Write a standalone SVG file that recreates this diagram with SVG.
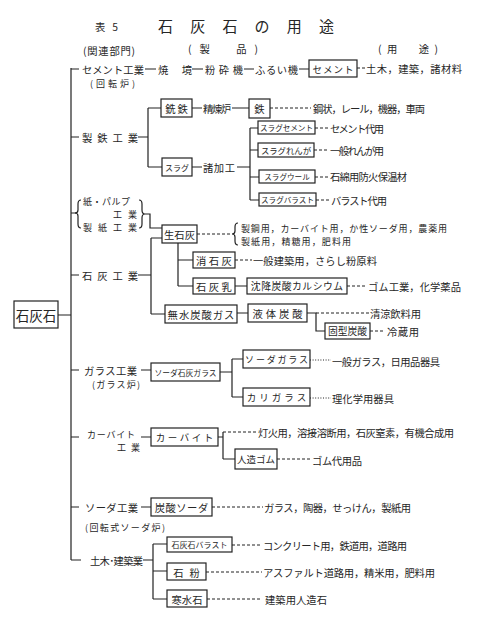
<svg xmlns="http://www.w3.org/2000/svg" width="480" height="622" viewBox="0 0 480 622">
<style>
text{font-family:"Noto Sans CJK JP","Noto Sans CJK SC",sans-serif;font-size:10.3px;fill:#262626;dominant-baseline:central}
.m{text-anchor:middle}
.s{font-size:7.6px}
.k{font-size:9px}
.b{fill:#fff;stroke:#222;stroke-width:1.2}
.l{fill:none;stroke:#222;stroke-width:1.2}
.d{fill:none;stroke:#222;stroke-width:1;stroke-dasharray:3 2}
.o{fill:none;stroke:#222;stroke-width:1;stroke-dasharray:1 1.6}
</style>
<rect width="480" height="622" fill="#fff"/>
<g id="title">
<text x="95" y="26" font-size="12" textLength="23" lengthAdjust="spacing">表 5</text>
<text x="158" y="25" style="font-size:15px" textLength="176" lengthAdjust="spacing">石灰石の用途</text>
<text x="83" y="50" textLength="52" lengthAdjust="spacing">(関連部門)</text>
<text x="188" y="48" textLength="70" lengthAdjust="spacing">(製　品)</text>
<text x="378" y="48" textLength="60" lengthAdjust="spacing">(用　途)</text>
</g>
<g id="connectors">
<path class="l" d="M71,68V560M58,315H71M71,69H79M71,137H79M71,213H76M71,275H79M71,370H79M71,437H79M71,507H79M71,560H81"/>
<path class="l" d="M145,69H156M192,69H203M244,69H254M299,69H309"/>
<path class="d" d="M357,68H366"/>
<path class="l" d="M138,137H148M148,108V167M148,108H161M148,167H162M192,108H202M232,108H249"/>
<path class="d" d="M270,108H311"/>
<path class="l" d="M192,167H202M237,167H250M250,128V200M250,128H258M250,150H258M250,177H259M250,200H259"/>
<path class="d" d="M315,128H329M314,150H329M315,177H329M316,200H329"/>
<path class="l" d="M81,200Q78,200 78,204V210Q78,213 75,213Q78,213 78,216V224Q78,228 81,228"/>
<path class="l" d="M139,200Q142,200 142,204V210Q142,214 145,214Q142,214 142,218V224Q142,228 139,228"/>
<path class="l" d="M145,214H150V228H162M138,275H151M151,238V314M151,238H162M151,314H165"/>
<path class="d" d="M197,234H231"/>
<path class="l" d="M238,223Q235,223 235,227V231Q235,234 232,234Q235,234 235,237V241Q235,245 238,245"/>
<path class="l" d="M178,243V286M178,260H193M178,286H193M235,286H247"/>
<path class="d" d="M235,260H252M347,286H367"/>
<path class="l" d="M237,313H248M307,313H316V331H325"/>
<path class="d" d="M316,313H369M370,331H385"/>
<path class="l" d="M141,370H151M220,372H232M232,359V397M232,359H243M232,397H243"/>
<path class="o" d="M310,360H331M310,398H331"/>
<path class="l" d="M141,437H151M218,437H223M223,432V459M223,459H235"/>
<path class="d" d="M223,432H256M277,459H311"/>
<path class="l" d="M141,507H151M143,560H153M153,544V599M153,544H167M153,571H167M153,599H167"/>
<path class="d" d="M212,507H263M232,545H262M206,572H262M207,599H262"/>
</g>
<g id="n-root"><rect class="b" x="14" y="301" width="44" height="27"/><text class="m" x="36" y="315" style="font-size:13.5px">石灰石</text></g>
<g id="n-cement-ind"><text x="82" y="69" textLength="62" lengthAdjust="spacing">セメント工業</text><text x="90" y="83" class="k" textLength="45" lengthAdjust="spacing">(回転炉)</text></g>
<g id="n-shoseki"><text x="158" y="69" textLength="34" lengthAdjust="spacing">焼境</text></g>
<g id="n-funsai"><text x="205" y="69" textLength="38" lengthAdjust="spacing">粉砕機</text></g>
<g id="n-furui"><text x="255" y="69" textLength="43" lengthAdjust="spacing">ふるい機</text></g>
<g id="n-cement"><rect class="b" x="309" y="60" width="48" height="17"/><text class="m" x="333.5" y="68.5" style="font-size:9.5px" letter-spacing="1">セメント</text></g>
<g id="u-cement"><text x="366" y="68" textLength="96" lengthAdjust="spacing">土木，建築，諸材料</text></g>
<g id="n-seitetsu-ind"><text x="82" y="137" textLength="56" lengthAdjust="spacing">製鉄工業</text></g>
<g id="n-sentetsu"><rect class="b" x="161" y="99" width="31" height="18"/><text class="m" x="177.5" y="108" letter-spacing="2">銑鉄</text></g>
<g id="n-seiren"><text x="203" y="108" textLength="28" lengthAdjust="spacing">精煉炉</text></g>
<g id="n-tetsu"><rect class="b" x="249" y="99" width="21" height="19"/><text class="m" x="259.5" y="108.5">鉄</text></g>
<g id="u-tetsu"><text x="313" y="108" textLength="112" lengthAdjust="spacing">鋼状，レール，機器，車両</text></g>
<g id="n-slag"><rect class="b" x="162" y="158" width="30" height="18"/><text x="165" y="167" style="font-size:8px" textLength="24" lengthAdjust="spacing">スラグ</text></g>
<g id="n-kako"><text x="203" y="167" textLength="32" lengthAdjust="spacing">諸加工</text></g>
<g id="n-slag-cement"><rect class="b" x="258" y="121" width="57" height="13"/><text class="m s" x="286.5" y="127.5">スラグセメント</text></g>
<g id="u-slag-cement"><text x="330" y="128" textLength="54" lengthAdjust="spacing">セメント代用</text></g>
<g id="n-slag-renga"><rect class="b" x="258" y="143" width="56" height="14"/><text class="m" x="286" y="150" style="font-size:8.4px">スラグれんが</text></g>
<g id="u-slag-renga"><text x="330" y="150" textLength="54" lengthAdjust="spacing">一般れんが用</text></g>
<g id="n-slag-wool"><rect class="b" x="259" y="170" width="56" height="13"/><text class="m s" x="287" y="176.5">スラグウール</text></g>
<g id="u-slag-wool"><text x="330" y="176" textLength="77" lengthAdjust="spacing">石綿用防火保温材</text></g>
<g id="n-slag-ballast"><rect class="b" x="259" y="193" width="57" height="13"/><text class="m s" x="287.5" y="199.5">スラグバラスト</text></g>
<g id="u-slag-ballast"><text x="331" y="200" textLength="56" lengthAdjust="spacing">バラスト代用</text></g>
<g id="n-paper-ind"><text x="83" y="201" class="k" textLength="47" lengthAdjust="spacing">紙・パルプ</text><text x="113" y="214" class="k" textLength="24" lengthAdjust="spacing">工業</text><text x="83" y="227" class="k" textLength="54" lengthAdjust="spacing">製紙工業</text></g>
<g id="n-lime-ind"><text x="82" y="275" textLength="56" lengthAdjust="spacing">石灰工業</text></g>
<g id="n-quicklime"><rect class="b" x="162" y="225" width="35" height="18"/><text class="m" x="179.5" y="234">生石灰</text></g>
<g id="u-quicklime"><text x="241" y="228" class="k" textLength="206" lengthAdjust="spacing">製鋼用，カーバイト用，か性ソーダ用，農薬用</text><text x="241" y="241" class="k" textLength="110" lengthAdjust="spacing">製紙用，精糖用，肥料用</text></g>
<g id="n-slaked"><rect class="b" x="193" y="252" width="42" height="16"/><text class="m" x="215.2" y="260" letter-spacing="2.5">消石灰</text></g>
<g id="u-slaked"><text x="253" y="260" textLength="124" lengthAdjust="spacing">一般建築用，さらし粉原料</text></g>
<g id="n-milk"><rect class="b" x="193" y="278" width="42" height="16"/><text class="m" x="215.2" y="286" letter-spacing="2.5">石灰乳</text></g>
<g id="n-pcc"><rect class="b" x="247" y="278" width="100" height="16"/><text class="m" x="297.2" y="286" style="font-size:9.8px" letter-spacing="0.5">沈降炭酸カルシウム</text></g>
<g id="u-pcc"><text x="368" y="286" textLength="93" lengthAdjust="spacing">ゴム工業，化学薬品</text></g>
<g id="n-co2"><rect class="b" x="165" y="305" width="72" height="18"/><text class="m" x="201.5" y="314" letter-spacing="1">無水炭酸ガス</text></g>
<g id="n-liquid"><rect class="b" x="248" y="304" width="59" height="18"/><text class="m" x="279" y="313" letter-spacing="3">液体炭酸</text></g>
<g id="u-liquid"><text x="370" y="313" textLength="51" lengthAdjust="spacing">清涼飲料用</text></g>
<g id="n-dry"><rect class="b" x="325" y="323" width="45" height="16"/><text class="m" x="347.5" y="331" style="font-size:9.8px">固型炭酸</text></g>
<g id="u-dry"><text x="387" y="331" textLength="32" lengthAdjust="spacing">冷蔵用</text></g>
<g id="n-glass-ind"><text x="84" y="370" textLength="53" lengthAdjust="spacing">ガラス工業</text><text x="92" y="384" class="k" textLength="48" lengthAdjust="spacing">(ガラス炉)</text></g>
<g id="n-sodalime"><rect class="b" x="151" y="363" width="69" height="18"/><text class="m" x="185.5" y="372" style="font-size:7.8px">ソーダ石灰ガラス</text></g>
<g id="n-sodaglass"><rect class="b" x="243" y="350" width="67" height="18"/><text class="m k" x="277.4" y="359" letter-spacing="1.8">ソーダガラス</text></g>
<g id="u-sodaglass"><text x="332" y="361" textLength="108" lengthAdjust="spacing">一般ガラス，日用品器具</text></g>
<g id="n-potash"><rect class="b" x="243" y="388" width="67" height="18"/><text class="m" x="278" y="397" style="font-size:9.5px" letter-spacing="3">カリガラス</text></g>
<g id="u-potash"><text x="332" y="398" textLength="62" lengthAdjust="spacing">理化学用器具</text></g>
<g id="n-carbide-ind"><text x="87" y="434" class="k" textLength="48" lengthAdjust="spacing">カーバイト</text><text x="117" y="447" class="k" textLength="23" lengthAdjust="spacing">工業</text></g>
<g id="n-carbide"><rect class="b" x="151" y="428" width="67" height="18"/><text class="m" x="185.7" y="437" style="font-size:9.5px" letter-spacing="2.5">カーバイト</text></g>
<g id="u-carbide"><text x="258" y="432" textLength="196" lengthAdjust="spacing">灯火用，溶接溶断用，石灰窒素，有機合成用</text></g>
<g id="n-rubber"><rect class="b" x="235" y="449" width="42" height="20"/><text class="m" x="256" y="459" style="font-size:9.5px">人造ゴム</text></g>
<g id="u-rubber"><text x="312" y="460" textLength="50" lengthAdjust="spacing">ゴム代用品</text></g>
<g id="n-soda-ind"><text x="85" y="507" textLength="53" lengthAdjust="spacing">ソーダ工業</text><text x="85" y="527" class="k" textLength="80" lengthAdjust="spacing">(回転式ソーダ炉)</text></g>
<g id="n-sodaash"><rect class="b" x="151" y="498" width="61" height="18"/><text class="m" x="181.7" y="507" letter-spacing="0.5">炭酸ソーダ</text></g>
<g id="u-sodaash"><text x="264" y="507" textLength="147" lengthAdjust="spacing">ガラス，陶器，せっけん，製紙用</text></g>
<g id="n-civil-ind"><text x="90" y="560" textLength="53" lengthAdjust="spacing">土木･建築業</text></g>
<g id="n-ballast"><rect class="b" x="167" y="537" width="65" height="15"/><text class="m" x="199.5" y="544.5" style="font-size:8px">石灰石バラスト</text></g>
<g id="u-ballast"><text x="263" y="545" textLength="144" lengthAdjust="spacing">コンクリート用，鉄道用，道路用</text></g>
<g id="n-powder"><rect class="b" x="167" y="563" width="39" height="17"/><text class="m" x="189.5" y="572" letter-spacing="6">石粉</text></g>
<g id="u-powder"><text x="263" y="572" textLength="172" lengthAdjust="spacing">アスファルト道路用，精米用，肥料用</text></g>
<g id="n-marble"><rect class="b" x="167" y="590" width="40" height="17"/><text class="m" x="187" y="599">寒水石</text></g>
<g id="u-marble"><text x="265" y="599" textLength="62" lengthAdjust="spacing">建築用人造石</text></g>
</svg>
